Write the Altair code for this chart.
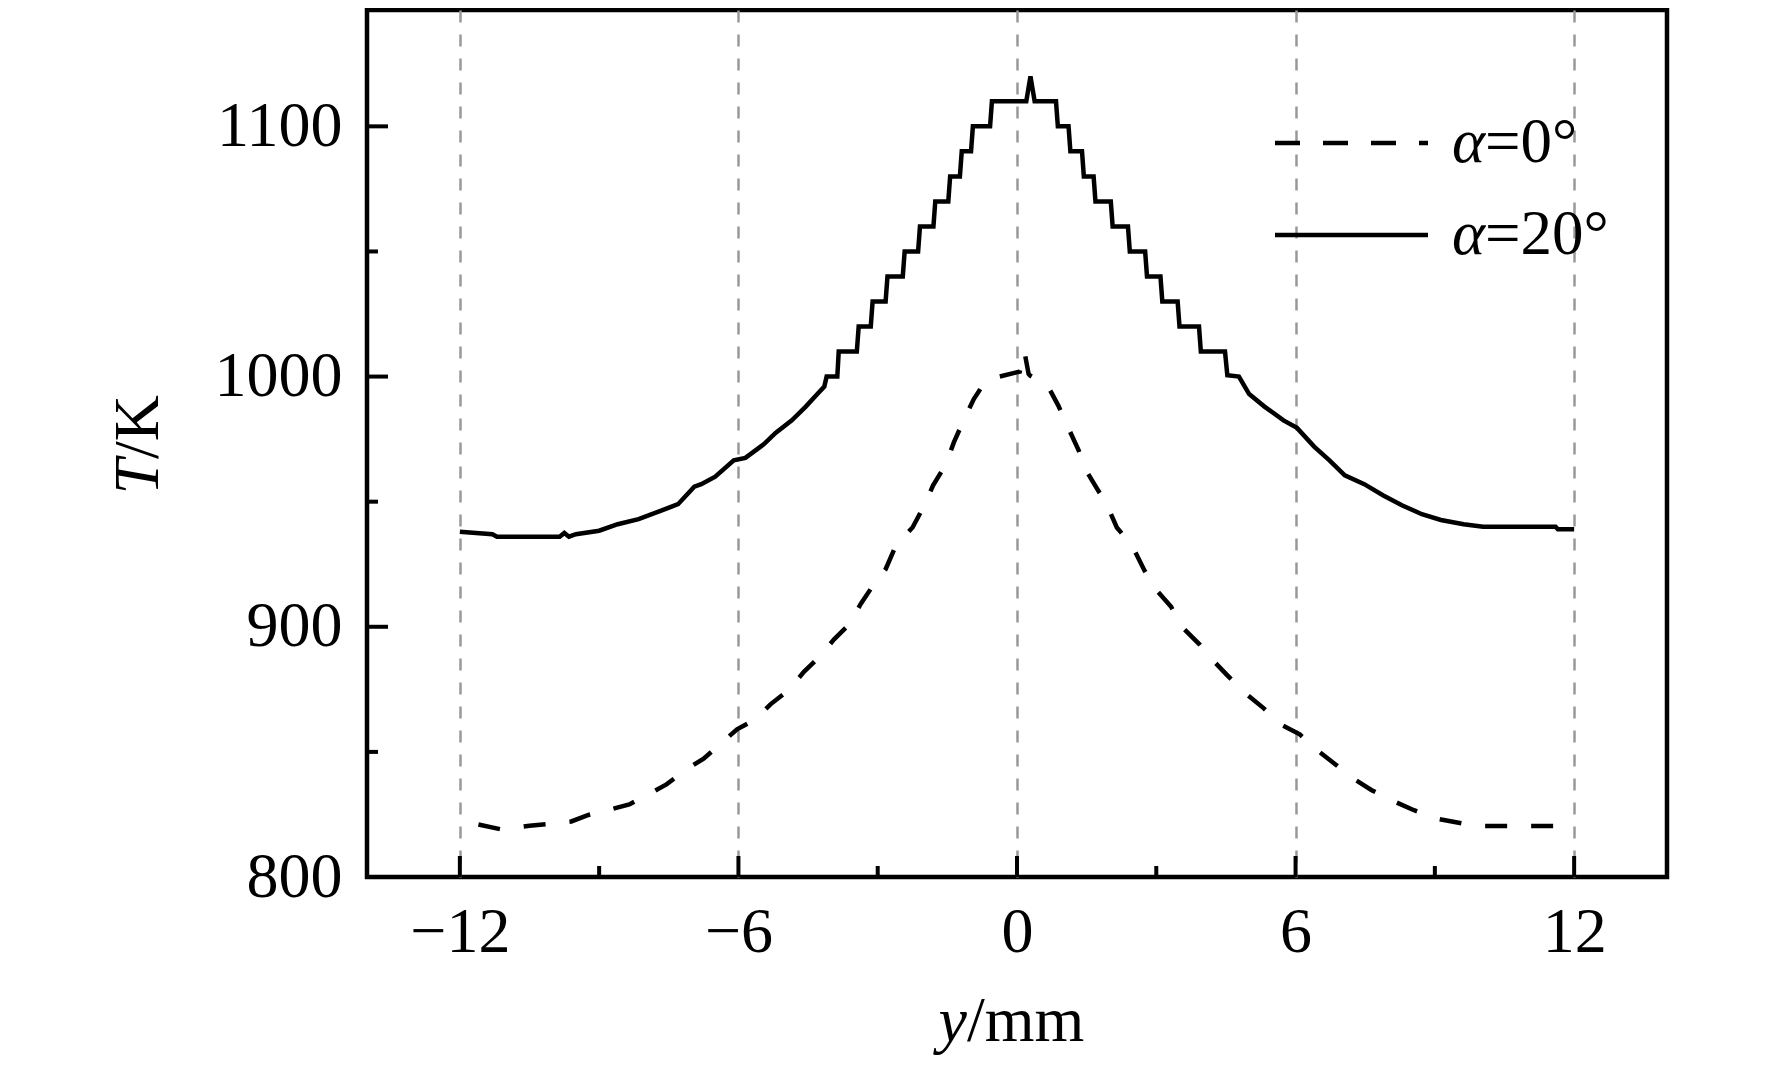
import altair as alt
import pandas as pd

# ---------------- data ----------------
# alpha = 0 deg (dashed)
y_a0 = [-11.6, -11.1, -10.5, -10.0, -9.6, -9.23, -8.82, -8.35, -7.92, -7.55, -7.12, -6.75,
        -6.38, -6.03, -5.64, -5.31, -4.92, -4.59, -4.27, -3.94, -3.61, -3.37, -3.13, -2.83,
        -2.61, -2.25, -2.0, -1.81, -1.53, -1.36, -1.12, -0.93, -0.72, -0.38, 0.06, 0.16,
        0.25, 0.28, 0.66, 0.89, 1.10, 1.33, 1.47, 1.72, 1.93, 2.15, 2.48, 2.75, 3.0, 3.32,
        3.53, 3.93, 4.2, 4.52, 4.88, 5.31, 5.7, 6.09, 6.44, 6.86, 7.19, 7.64, 8.06, 8.55,
        9.05, 9.62, 9.95, 12.0]
T_a0 = [821, 819, 820.5, 821.3, 822.2, 824.8, 826.7, 829, 833.3, 837, 843, 847.3,
        853.3, 859, 863, 869, 874.7, 882, 887.7, 895, 901, 909, 915.7, 923,
        932.4, 939.7, 948.4, 956.4, 965, 973.7, 983.7, 991, 997, 1000, 1002, 1010,
        1001, 1000.4, 996.4, 988.4, 979.7, 970.4, 963, 955.3, 949, 939.7, 932.4, 922.3, 914.7, 908,
        900.4, 893, 887, 880.8, 874, 867.5, 860.8, 857, 851, 845, 840, 834.7, 830.7, 826.7,
        823.3, 821.3, 820.4, 820.4]

# alpha = 20 deg (solid, stepped)
y_a20 = [-12.0, -11.3, -11.2, -9.85, -9.75, -9.65, -9.5, -9.0, -8.6, -8.15, -7.65, -7.3,
         -6.95, -6.8, -6.5, -6.1, -5.85, -5.45, -5.2, -4.85, -4.55, -4.3, -4.15, -4.1, -3.87,
         -3.84, -3.45, -3.41, -3.15, -3.11, -2.83, -2.79, -2.46, -2.42, -2.13, -2.09, -1.80,
         -1.76, -1.48, -1.44, -1.23, -1.19, -0.99, -0.95, -0.58, -0.54, 0.20, 0.29, 0.38,
         0.84, 0.88, 1.11, 1.15, 1.40, 1.44, 1.65, 1.69, 2.02, 2.06, 2.39, 2.43, 2.76, 2.80,
         3.09, 3.13, 3.46, 3.50, 3.92, 3.96, 4.48, 4.53, 4.78,
         5.0, 5.33, 5.74, 6.03, 6.4, 6.73, 7.06, 7.48, 7.89, 8.3, 8.72, 9.13, 9.62, 10.04,
         11.6, 11.65, 12.0]
T_a20 = [938, 937, 936, 936, 937.5, 936, 937, 938.4, 941, 943, 946.5, 949,
         956, 957, 960, 966.5, 967.5, 973, 977.5, 982.5, 988, 993, 996, 1000, 1000,
         1010, 1010, 1020, 1020, 1030, 1030, 1040, 1040, 1050, 1050, 1060, 1060,
         1070, 1070, 1080, 1080, 1090, 1090, 1100, 1100, 1110, 1110, 1120, 1110,
         1110, 1100, 1100, 1090, 1090, 1080, 1080, 1070, 1070, 1060, 1060, 1050, 1050, 1040,
         1040, 1030, 1030, 1020, 1020, 1010, 1010, 1000.5, 1000,
         993, 988, 982.5, 979.5, 972, 966.5, 960.5, 957, 952.5, 948.5, 945, 942.7, 941, 940,
         940, 939, 939]

x_major = [-12, -6, 0, 6, 12]
x_minor = [-9, -3, 3, 9]
T_major = [800, 900, 1000, 1100]
T_minor = [850, 950, 1050]

x_title = ["y", "/mm"]
y_title = ["T", "/K"]
legend_symbol = ["α"]
legend_values = ["=0°", "=20°"]

# ---------------- chart ----------------
FONT = "Liberation Serif"
W, H = 1300, 867
LW = 4.5

xscale = alt.Scale(domain=[-14, 14], nice=False, zero=False)
yscale = alt.Scale(domain=[800, 1146.5], nice=False, zero=False)

xaxis = alt.Axis(values=x_major, title=None, grid=True, gridDash=[12, 12],
                 gridColor="#999999", gridWidth=2.5, domain=False, ticks=False,
                 labelFont=FONT, labelFontSize=64, labelColor="black",
                 labelPadding=23, labelFlush=False, labelOverlap=False, format="d")
yaxis = alt.Axis(values=T_major, title=None, grid=False, domain=False, ticks=False,
                 labelFont=FONT, labelFontSize=64, labelColor="black",
                 labelPadding=25, labelFlush=False, labelOverlap=False, format="d")

# one table holding both curves plus the tick positions, so every layer shares
# the same fields, scales and axes
rows = []
for i, (a, b) in enumerate(zip(y_a0, T_a0)):
    rows.append({"kind": "a0", "y": a, "T": b, "i": i})
for i, (a, b) in enumerate(zip(y_a20, T_a20)):
    rows.append({"kind": "a20", "y": a, "T": b, "i": i})
for v in x_major:
    rows.append({"kind": "xmaj", "y": v, "T": 800.0, "i": 0})
for v in x_minor:
    rows.append({"kind": "xmin", "y": v, "T": 800.0, "i": 0})
for v in T_major:
    rows.append({"kind": "ymaj", "y": -14.0, "T": v, "i": 0})
for v in T_minor:
    rows.append({"kind": "ymin", "y": -14.0, "T": v, "i": 0})
df = pd.DataFrame(rows)

base = alt.Chart(df)
X = alt.X("y:Q", scale=xscale, axis=xaxis)
Y = alt.Y("T:Q", scale=yscale, axis=yaxis)

line20 = base.transform_filter(alt.datum.kind == "a20").mark_line(
    color="black", strokeWidth=LW).encode(x=X, y=Y, order="i:Q")
line0 = base.transform_filter(alt.datum.kind == "a0").mark_line(
    color="black", strokeWidth=LW, strokeDash=[22, 24]).encode(x=X, y=Y, order="i:Q")


def xticks(kind, length):
    return base.transform_filter(alt.datum.kind == kind).mark_rule(
        color="black", strokeWidth=4).encode(
        x=X, y=Y, y2=alt.value(H - length))


def yticks(kind, length):
    return base.transform_filter(alt.datum.kind == kind).mark_rule(
        color="black", strokeWidth=4).encode(
        y=Y, x=X, x2=alt.value(length))


def txt(s, x, y, italic=False, align="left", angle=None, size=64):
    kw = dict(font=FONT, fontSize=size, fontStyle="italic" if italic else "normal",
              align=align, baseline="alphabetic", color="black")
    if angle is not None:
        kw["angle"] = angle
    return alt.Chart(pd.DataFrame({"s": [s]})).mark_text(**kw).encode(
        x=alt.value(x), y=alt.value(y), text="s:N")


def legend_line(dash, y):
    kw = dict(color="black", strokeWidth=LW)
    if dash:
        kw["strokeDash"] = dash
    return alt.Chart(pd.DataFrame({"s": [1]})).mark_rule(**kw).encode(
        x=alt.value(908), x2=alt.value(1061), y=alt.value(y))


layers = [
    line20, line0,
    xticks("xmaj", 21), xticks("xmin", 11),
    yticks("ymaj", 21), yticks("ymin", 11),
    # axis titles
    txt(x_title[0], 600, 1031, italic=True, align="right"),
    txt(x_title[1], 600, 1031, align="left"),
    txt(y_title[0], -209, 449, italic=True, align="right", angle=270),
    txt(y_title[1], -209, 449, align="left", angle=270),
    # legend
    legend_line([25, 23], 133),
    legend_line(None, 225),
    txt(legend_symbol[0], 1118, 151.7, italic=True, align="right", size=63),
    txt(legend_values[0], 1118, 151.7, align="left", size=63),
    txt(legend_symbol[0], 1118, 244, italic=True, align="right", size=63),
    txt(legend_values[1], 1118, 244, align="left", size=63),
]

chart = alt.layer(*layers).properties(
    width=W, height=H,
    autosize=alt.AutoSizeParams(type="none"),
    padding={"left": 359, "top": 2, "right": 80, "bottom": 180},
).configure_view(stroke="black", strokeWidth=4.5)

chart.save("out.html", embed_options={"renderer": "svg", "actions": False})
